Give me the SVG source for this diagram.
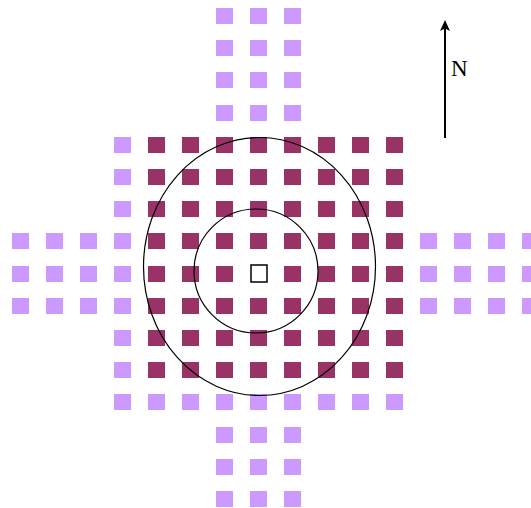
<svg xmlns="http://www.w3.org/2000/svg" width="531" height="508" viewBox="0 0 531 508">
<style>
.l{fill:#CC99FF}
.d{fill:#993366}
.c{fill:none;stroke:#000;stroke-width:1.2}
.t{font-family:"Liberation Serif","Times New Roman",serif;font-size:23px;fill:#000}
</style>
<defs>
<rect id="s" width="17" height="16"/>
</defs>
<rect width="531" height="508" fill="#fff"/>
<g id="squares">
<g class="l">
<use href="#s" x="216" y="8"/><use href="#s" x="250" y="8"/><use href="#s" x="284" y="8"/>
<use href="#s" x="216" y="40"/><use href="#s" x="250" y="40"/><use href="#s" x="284" y="40"/>
<use href="#s" x="216" y="72"/><use href="#s" x="250" y="72"/><use href="#s" x="284" y="72"/>
<use href="#s" x="216" y="105"/><use href="#s" x="250" y="105"/><use href="#s" x="284" y="105"/>
<use href="#s" x="114" y="137"/><use href="#s" x="114" y="169"/><use href="#s" x="114" y="201"/>
<use href="#s" x="12" y="233"/><use href="#s" x="46" y="233"/><use href="#s" x="80" y="233"/><use href="#s" x="114" y="233"/>
<use href="#s" x="420" y="233"/><use href="#s" x="454" y="233"/><use href="#s" x="488" y="233"/><use href="#s" x="522" y="233"/>
<use href="#s" x="12" y="266"/><use href="#s" x="46" y="266"/><use href="#s" x="80" y="266"/><use href="#s" x="114" y="266"/>
<use href="#s" x="420" y="266"/><use href="#s" x="454" y="266"/><use href="#s" x="488" y="266"/><use href="#s" x="522" y="266"/>
<use href="#s" x="12" y="298"/><use href="#s" x="46" y="298"/><use href="#s" x="80" y="298"/><use href="#s" x="114" y="298"/>
<use href="#s" x="420" y="298"/><use href="#s" x="454" y="298"/><use href="#s" x="488" y="298"/><use href="#s" x="522" y="298"/>
<use href="#s" x="114" y="330"/><use href="#s" x="114" y="362"/>
<use href="#s" x="114" y="394"/><use href="#s" x="148" y="394"/><use href="#s" x="182" y="394"/><use href="#s" x="216" y="394"/><use href="#s" x="250" y="394"/><use href="#s" x="284" y="394"/><use href="#s" x="318" y="394"/><use href="#s" x="352" y="394"/><use href="#s" x="386" y="394"/>
<use href="#s" x="216" y="427"/><use href="#s" x="250" y="427"/><use href="#s" x="284" y="427"/>
<use href="#s" x="216" y="459"/><use href="#s" x="250" y="459"/><use href="#s" x="284" y="459"/>
<use href="#s" x="216" y="491"/><use href="#s" x="250" y="491"/><use href="#s" x="284" y="491"/>
</g>
<g class="d">
<use href="#s" x="148" y="137"/><use href="#s" x="182" y="137"/><use href="#s" x="216" y="137"/><use href="#s" x="250" y="137"/><use href="#s" x="284" y="137"/><use href="#s" x="318" y="137"/><use href="#s" x="352" y="137"/><use href="#s" x="386" y="137"/>
<use href="#s" x="148" y="169"/><use href="#s" x="182" y="169"/><use href="#s" x="216" y="169"/><use href="#s" x="250" y="169"/><use href="#s" x="284" y="169"/><use href="#s" x="318" y="169"/><use href="#s" x="352" y="169"/><use href="#s" x="386" y="169"/>
<use href="#s" x="148" y="201"/><use href="#s" x="182" y="201"/><use href="#s" x="216" y="201"/><use href="#s" x="250" y="201"/><use href="#s" x="284" y="201"/><use href="#s" x="318" y="201"/><use href="#s" x="352" y="201"/><use href="#s" x="386" y="201"/>
<use href="#s" x="148" y="233"/><use href="#s" x="182" y="233"/><use href="#s" x="216" y="233"/><use href="#s" x="250" y="233"/><use href="#s" x="284" y="233"/><use href="#s" x="318" y="233"/><use href="#s" x="352" y="233"/><use href="#s" x="386" y="233"/>
<use href="#s" x="148" y="266"/><use href="#s" x="182" y="266"/><use href="#s" x="216" y="266"/><use href="#s" x="284" y="266"/><use href="#s" x="318" y="266"/><use href="#s" x="352" y="266"/><use href="#s" x="386" y="266"/>
<use href="#s" x="148" y="298"/><use href="#s" x="182" y="298"/><use href="#s" x="216" y="298"/><use href="#s" x="250" y="298"/><use href="#s" x="284" y="298"/><use href="#s" x="318" y="298"/><use href="#s" x="352" y="298"/><use href="#s" x="386" y="298"/>
<use href="#s" x="148" y="330"/><use href="#s" x="182" y="330"/><use href="#s" x="216" y="330"/><use href="#s" x="250" y="330"/><use href="#s" x="284" y="330"/><use href="#s" x="318" y="330"/><use href="#s" x="352" y="330"/><use href="#s" x="386" y="330"/>
<use href="#s" x="148" y="362"/><use href="#s" x="182" y="362"/><use href="#s" x="216" y="362"/><use href="#s" x="250" y="362"/><use href="#s" x="284" y="362"/><use href="#s" x="318" y="362"/><use href="#s" x="352" y="362"/><use href="#s" x="386" y="362"/>
</g>
</g>
<g id="circles">
<ellipse class="c" cx="259.5" cy="266.5" rx="116" ry="129"/>
<ellipse class="c" cx="256" cy="271" rx="62" ry="62"/>
</g>
<g id="center">
<rect x="251" y="265" width="16" height="17" fill="#fff" stroke="#000" stroke-width="1.5"/>
</g>
<g id="north">
<line x1="445" y1="138" x2="445" y2="27" stroke="#000" stroke-width="2"/>
<path d="M445,20 L450,31 L445,28.5 L440,31 Z" fill="#000"/>
<text class="t" x="451" y="76">N</text>
</g>
</svg>
